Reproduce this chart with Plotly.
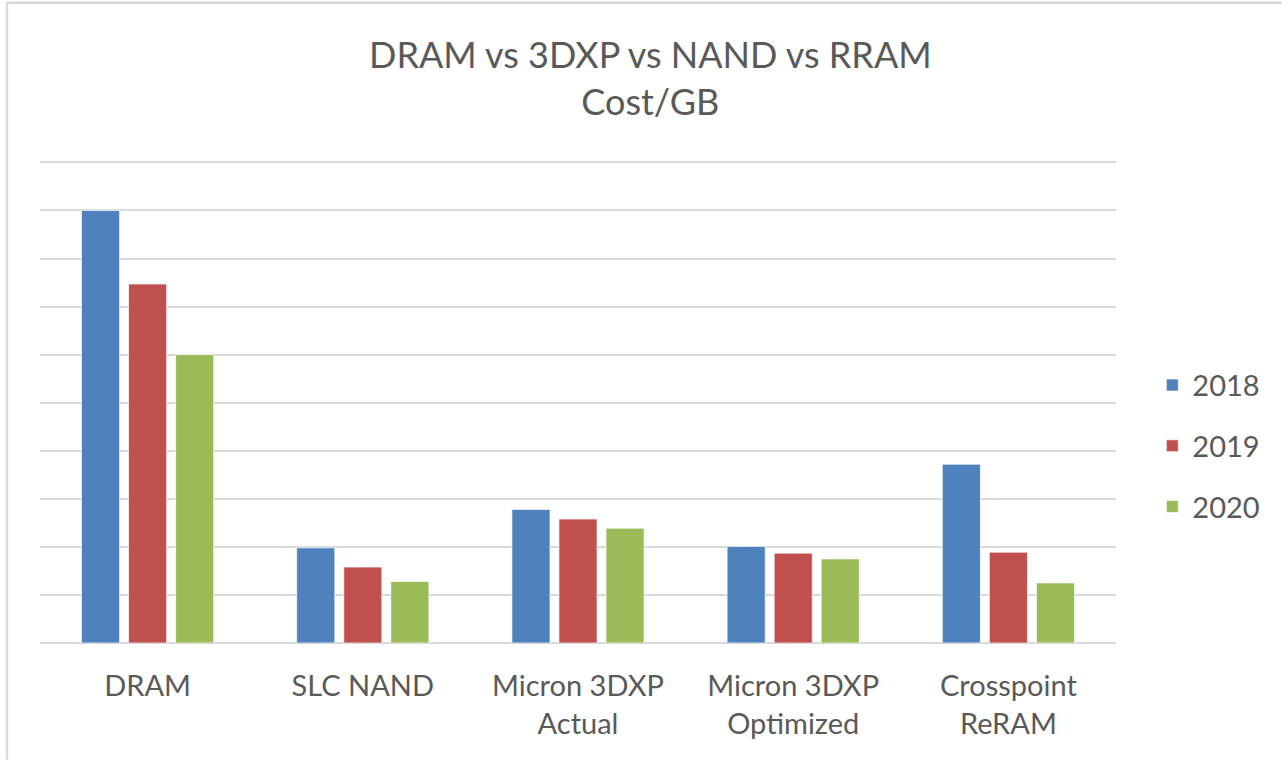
import plotly.graph_objects as go

categories = ["DRAM", "SLC NAND", "Micron 3DXP<br>Actual", "Micron 3DXP<br>Optimized", "Crosspoint<br>ReRAM"]
years = ["2018", "2019", "2020"]
values_2018 = [9.0, 1.98, 2.78, 2.01, 3.72]
values_2019 = [7.47, 1.58, 2.58, 1.87, 1.89]
values_2020 = [6.0, 1.28, 2.39, 1.75, 1.25]
colors = ["#4F81BD", "#C0504D", "#9BBB59"]
title_text = "DRAM vs 3DXP vs NAND vs RRAM<br>Cost/GB"

series = [values_2018, values_2019, values_2020]

FONT = "Lato"
TXT = "#595959"

fig = go.Figure()
for name, vals, col in zip(years, series, colors):
    fig.add_trace(go.Bar(
        x=categories, y=vals, name=name, legendgroup=name,
        marker=dict(color=col, line=dict(color="rgba(255,255,255,0.7)", width=1)),
        hoverinfo="x+y+name",
    ))

W, H = 1282, 760
YMAX = 10.05
UNIT = 48.06
L, R, B = 40, 1115.7, 643.3
T = B - YMAX * UNIT
pw, ph = R - L, B - T

def px_x(px):
    return (px - L) / pw

def px_y(py):
    return (B - py) / ph

fig.update_layout(
    width=W, height=H,
    margin=dict(l=L, r=W - R, t=T, b=H - B, pad=0),
    paper_bgcolor="white", plot_bgcolor="white",
    barmode="group", bargap=0.344, bargroupgap=0.19,
    font=dict(family=FONT, color=TXT),
    xaxis=dict(
        showgrid=False, showline=False, zeroline=False,
        tickfont=dict(family=FONT, size=29, color=TXT),
        ticks="", ticklabelstandoff=23,
    ),
    yaxis=dict(
        range=[0, YMAX], tick0=0, dtick=1, showticklabels=False,
        showgrid=True, gridcolor="#D9D9D9", gridwidth=1.5,
        zeroline=True, zerolinecolor="#D9D9D9", zerolinewidth=1.5,
        showline=False, fixedrange=True,
    ),
    legend=dict(
        x=px_x(1152), xanchor="left", y=px_y(360), yanchor="top",
        font=dict(family=FONT, size=29, color=TXT),
        tracegroupgap=20, bgcolor="rgba(0,0,0,0)",
    ),
    showlegend=True,
    annotations=[
        dict(text=title_text, xref="paper", yref="paper",
             x=px_x(650), y=px_y(78), xanchor="center", yanchor="middle",
             showarrow=False, align="center",
             font=dict(family=FONT, size=36, color=TXT)),
    ],
    shapes=[
        dict(type="line", xref="paper", yref="paper", x0=px_x(6), x1=px_x(1282), y0=px_y(3), y1=px_y(3),
             line=dict(color="#D9D9D9", width=2.5), layer="below"),
        dict(type="line", xref="paper", yref="paper", x0=px_x(7), x1=px_x(7), y0=px_y(3), y1=px_y(760),
             line=dict(color="#D9D9D9", width=2.5), layer="below"),
    ],
)

fig.write_html("out.html", config={"displayModeBar": False},
               post_script="document.body.style.margin='0px';")
